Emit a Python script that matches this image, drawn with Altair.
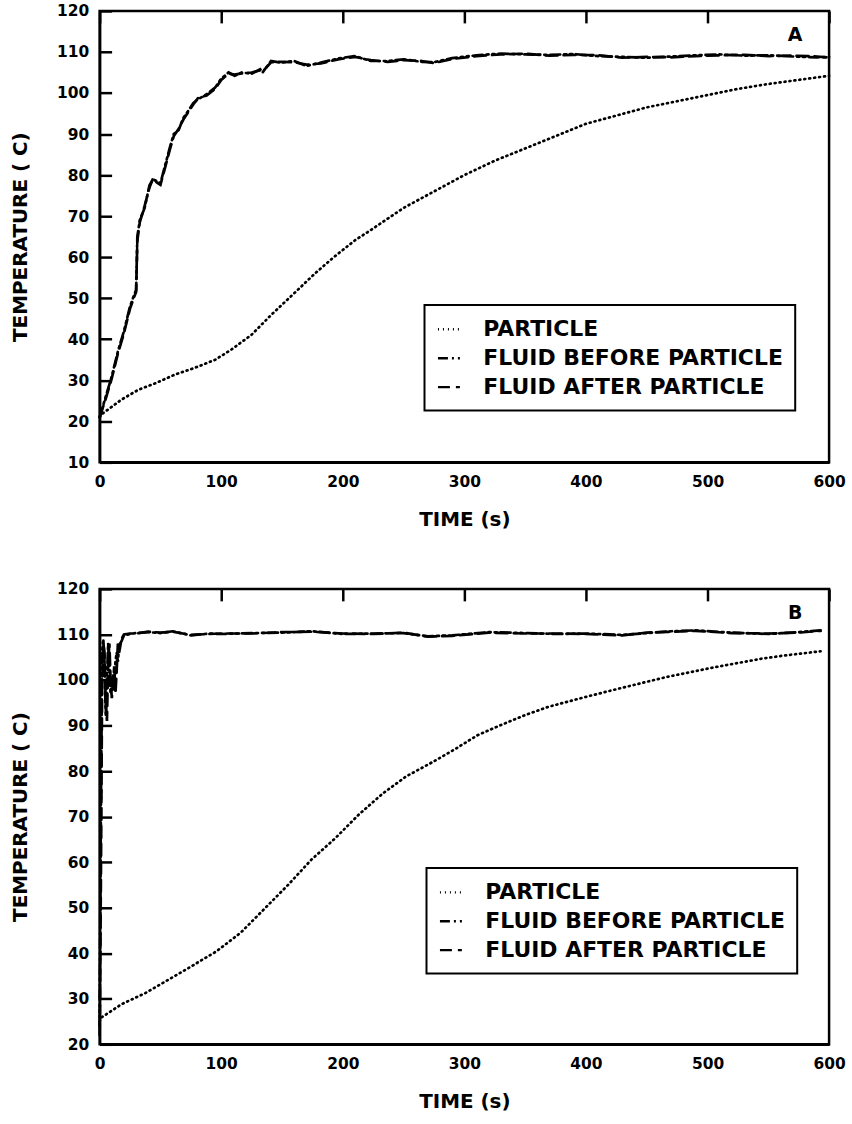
import altair as alt
import pandas as pd

SERIES = ["PARTICLE", "FLUID BEFORE PARTICLE", "FLUID AFTER PARTICLE"]
DASHES = [[1, 4], [10, 4, 2, 4, 2, 4], [12, 6]]
X_TICKS = [0, 100, 200, 300, 400, 500, 600]
FONT = "DejaVu Sans"

# ---------------- Panel A ----------------
a_part_t = [0, 2, 18, 32, 46, 62, 78, 95, 108, 125, 141, 160, 177, 193, 210, 223, 237,
            250, 275, 300, 325, 350, 375, 400, 425, 450, 475, 500, 525, 550, 575, 600]
a_part_v = [21, 21.8, 25.3, 27.7, 29.3, 31.4, 33, 35, 37.4, 41.1, 45.9, 51.2, 56, 60.1, 64.1, 66.6, 69.4,
            72, 76, 80, 83.5, 86.5, 89.5, 92.5, 94.5, 96.5, 98, 99.5, 101, 102.2, 103.2, 104.2]

a_fluid_t = [0, 5, 10, 15, 20, 25, 28, 30, 31, 33, 37, 41, 44, 47, 50, 54, 58, 61, 65, 69, 73, 77, 81,
             88, 95, 100, 106, 111, 117, 125, 132, 134, 141, 149, 160, 170, 182, 196, 210, 223, 237,
             250, 265, 275, 290, 310, 330, 350, 370, 390, 410, 430, 450, 470, 490, 510, 530, 550,
             570, 590, 600]
a_before = [21, 26, 31, 37, 42, 48, 50.5, 52, 65, 69, 72, 77.5, 79, 78.5, 78, 82.5, 87, 90, 91, 94, 95.7,
            97.5, 98.5, 99.7, 101.3, 103.5, 105, 104.2, 105, 104.7, 105.8, 105, 107.8, 107.4, 107.8,
            106.6, 107.4, 108.4, 109, 107.8, 107.8, 108.2, 107.6, 107.5, 108.5, 109.2, 109.6, 109.4,
            109.3, 109.5, 109, 108.8, 108.6, 108.9, 109.2, 109.4, 109.1, 109.2, 108.9, 108.7, 108.8]
a_after = [21, 25.5, 30.5, 36.5, 41.5, 47.5, 50, 51.5, 64, 68.5, 72.5, 77, 79.3, 78.2, 77.6, 82, 86.5,
           89.5, 91.3, 93.6, 95.4, 97.2, 98.8, 99.4, 101, 103.2, 104.7, 104.5, 104.8, 105, 105.5, 105.2,
           107.5, 107.6, 107.5, 106.9, 107.2, 108.2, 108.8, 108, 107.6, 108, 107.8, 107.3, 108.3, 109,
           109.4, 109.6, 109.1, 109.3, 109.2, 108.6, 108.8, 108.7, 109, 109.2, 109.3, 109, 109.1,
           108.9, 108.6]

# ---------------- Panel B ----------------
b_part_t = [0, 1, 18, 38, 69, 96, 116, 135, 155, 174, 194, 213, 233, 252, 272, 291, 311, 330, 350,
            369, 400, 427, 467, 506, 545, 564, 593]
b_part_v = [25, 25.8, 28.8, 31.3, 36.1, 40.4, 44.5, 49.6, 55, 60.5, 65.3, 70.4, 75.1, 78.8, 81.7, 84.6,
            87.9, 90.1, 92.3, 94.1, 96.3, 98.1, 100.7, 102.8, 104.7, 105.4, 106.3]

b_fluid_t = [0, 1, 2, 3, 4, 5, 6, 7, 8, 9, 10, 11, 12, 13, 14, 15, 16, 18, 20, 25, 30, 40, 50, 60, 75,
             90, 100, 125, 150, 175, 200, 225, 250, 270, 290, 320, 350, 375, 400, 430, 450, 470, 490,
             520, 550, 575, 593]
b_before = [24, 70, 106, 109, 104, 92, 100, 108, 103, 97, 98, 101, 99, 104, 106, 104, 107.6, 108.5,
            109.8, 110.1, 110.3, 110.5, 110.3, 110.7, 109.8, 110.2, 110.1, 110.3, 110.4, 110.7, 110.1,
            110.2, 110.3, 109.6, 109.8, 110.5, 110.3, 110.1, 110.2, 109.9, 110.3, 110.7, 110.9, 110.4,
            110.1, 110.5, 110.9]
b_after = [22, 55, 98, 108, 106, 95, 91, 104, 108, 100, 96, 99, 103, 97, 102, 108, 106, 109, 110,
           110.2, 110.2, 110.6, 110.4, 110.6, 109.9, 110.1, 110.2, 110.2, 110.5, 110.6, 110.2, 110.1,
           110.4, 109.5, 109.7, 110.4, 110.2, 110.2, 110.1, 109.8, 110.4, 110.6, 110.8, 110.3, 110.2,
           110.4, 110.8]


def make_frame(pt, pv, ft, fb, fa):
    rows = []
    for t, v in zip(pt, pv):
        rows.append({"t": t, "T": v, "series": SERIES[0]})
    for t, v in zip(ft, fb):
        rows.append({"t": t, "T": v, "series": SERIES[1]})
    for t, v in zip(ft, fa):
        rows.append({"t": t, "T": v, "series": SERIES[2]})
    return pd.DataFrame(rows)


def panel(df, ymin, letter, h, lx, ly, w=732):
    yticks = list(range(ymin, 121, 10))
    xscale = alt.Scale(domain=[0, 600], nice=False, zero=False)
    yscale = alt.Scale(domain=[ymin, 120], nice=False, zero=False)
    # inward tick marks drawn as short dashed grid stubs starting at each axis
    xaxis = alt.Axis(title="TIME (s)", values=X_TICKS, format="d",
                     ticks=False, labelPadding=12, titlePadding=20,
                     grid=True, gridDash=[12, 3000], gridColor="black",
                     gridWidth=2.5, gridOpacity=1)
    yaxis = alt.Axis(title="TEMPERATURE ( C)", values=yticks, format="d",
                     ticks=False, labelPadding=11, titlePadding=26,
                     grid=True, gridDash=[12, 3000], gridColor="black",
                     gridWidth=2.5, gridOpacity=1)
    lines = alt.Chart(df).mark_line(color="black", strokeWidth=2.7, strokeCap="round").encode(
        x=alt.X("t:Q", scale=xscale, axis=xaxis),
        y=alt.Y("T:Q", scale=yscale, axis=yaxis),
        strokeDash=alt.StrokeDash(
            "series:N",
            scale=alt.Scale(domain=SERIES, range=DASHES),
            legend=alt.Legend(title=None, orient="none", legendX=lx, legendY=ly,
                              strokeColor="black", fillColor="white", padding=12,
                              labelFont=FONT, labelFontSize=22, labelFontWeight="bold",
                              labelColor="black", labelLimit=600, symbolType="stroke",
                              symbolSize=484, symbolStrokeWidth=2.4, symbolStrokeColor="black",
                              rowPadding=5, labelOffset=22)),
    )
    lab = alt.Chart(pd.DataFrame({"lab": [letter]})).mark_text(
        font=FONT, fontSize=19, fontWeight="bold", color="black", align="center", baseline="middle"
    ).encode(text="lab:N", x=alt.value(w - 34), y=alt.value(24))
    return alt.layer(lines, lab).properties(width=w, height=h)


dfA = make_frame(a_part_t, a_part_v, a_fluid_t, a_before, a_after)
dfB = make_frame(b_part_t, b_part_v, b_fluid_t, b_before, b_after)

pA = panel(dfA, 10, "A", 453, 326, 295)
pB = panel(dfB, 20, "B", 457, 328, 280)

chart = alt.vconcat(pA, pB, spacing=127, bounds="flush").resolve_scale(
    x="independent", y="independent", strokeDash="independent"
).resolve_legend(strokeDash="independent").properties(
    padding={"left": 9, "top": 0, "right": 5, "bottom": 5},
    background="white",
).configure_view(
    stroke="black", strokeWidth=2.5
).configure_axis(
    domainColor="black", domainWidth=2.5,
    labelFont=FONT, labelFontSize=15.5, labelFontWeight="bold", labelColor="black",
    titleFont=FONT, titleFontSize=20, titleFontWeight="bold", titleColor="black",
    labelFlush=False
).configure_legend(strokeWidth=2)

chart.save("out.html", embed_options={"renderer": "svg", "actions": False})
